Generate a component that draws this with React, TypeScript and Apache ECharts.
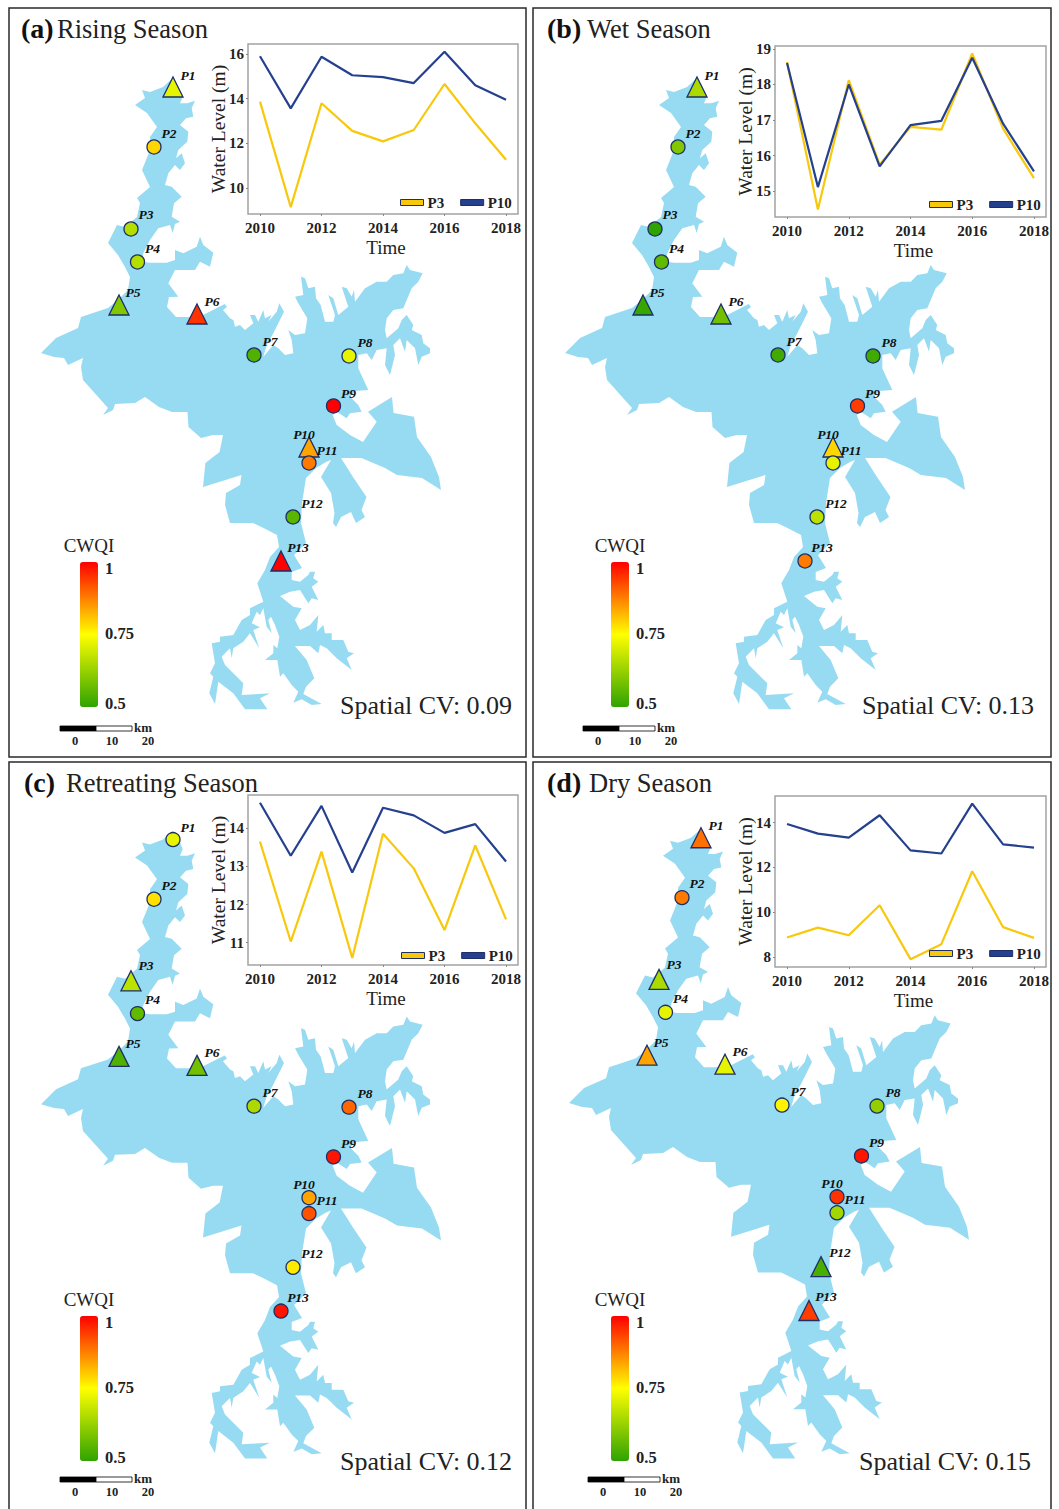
import React, { useEffect, useRef } from "react";
import * as echarts from "echarts";

const years = [2010, 2011, 2012, 2013, 2014, 2015, 2016, 2017, 2018];
const yearTicks = [2010, 2012, 2014, 2016, 2018];

const risingP3 = [13.87, 9.15, 13.8, 12.56, 12.09, 12.6, 14.66, 12.9, 11.27];
const risingP10 = [15.9, 13.57, 15.88, 15.05, 14.97, 14.7, 16.1, 14.6, 13.95];
const wetP3 = [18.63, 14.49, 18.12, 15.75, 16.81, 16.73, 18.87, 16.76, 15.37];
const wetP10 = [18.6, 15.12, 18.0, 15.7, 16.86, 16.98, 18.75, 16.9, 15.56];
const retreatP3 = [13.65, 11.03, 13.39, 10.6, 13.86, 12.95, 11.33, 13.55, 11.61];
const retreatP10 = [14.67, 13.28, 14.59, 12.84, 14.54, 14.34, 13.88, 14.11, 13.13];
const dryP3 = [8.87, 9.31, 8.97, 10.31, 7.9, 8.57, 11.83, 9.33, 8.85];
const dryP10 = [13.94, 13.51, 13.33, 14.33, 12.76, 12.62, 14.85, 13.03, 12.88];

const stationNames = ["P1", "P2", "P3", "P4", "P5", "P6", "P7", "P8", "P9", "P10", "P11", "P12", "P13"];
const stationX = [173, 154, 131, 137.5, 119, 197, 254, 349, 333.5, 309, 309, 293, 281];
const stationY = [87, 147, 229, 262, 305, 314, 355, 356, 406, 447, 463, 517, 561];
const labelDx = [15, 15, 15, 15, 14, 15, 16, 16, 15, -5, 18, 19, 17];
const labelDy = [-12, -14, -15, -14, -13, -13, -14, -14, -13, -13, -13, -14, -14];

const risingCWQI = [0.72, 0.79, 0.66, 0.66, 0.6, 0.95, 0.54, 0.72, 1.0, 0.84, 0.88, 0.55, 1.0];
const wetCWQI = [0.65, 0.6, 0.5, 0.56, 0.51, 0.58, 0.52, 0.52, 0.94, 0.79, 0.72, 0.67, 0.88];
const retreatCWQI = [0.72, 0.78, 0.67, 0.56, 0.54, 0.58, 0.65, 0.9, 0.98, 0.84, 0.92, 0.77, 0.98];
const dryCWQI = [0.89, 0.88, 0.65, 0.72, 0.84, 0.72, 0.76, 0.62, 0.98, 0.95, 0.64, 0.53, 0.94];

const risingTriangles = ["P1", "P5", "P6", "P10", "P13"];
const wetTriangles = ["P1", "P5", "P6", "P10"];
const retreatTriangles = ["P3", "P5", "P6"];
const dryTriangles = ["P1", "P3", "P5", "P6", "P12", "P13"];

// Reservoir outline, traced in panel pixels
const lakeOutline: number[][] = [
  [172.7, 78.3], [180, 90], [182.7, 96.7], [180, 103.3], [187.3, 103.3], [195, 100.7], [191.7, 108.3], [193.3, 116.7], [186, 118.3], [180, 125],
  [188.3, 131.7], [187.3, 141.7], [178.3, 150], [176, 158.3], [181.7, 153.3], [185, 163.3], [180, 170], [175, 165], [168.3, 173.3], [165, 185],
  [171.7, 186.7], [181.7, 196.7], [174, 203.3], [171.7, 216.7], [180, 221.7], [175, 224], [172.7, 233], [170, 225], [158.3, 228.3], [150, 240],
  [143.3, 253.3], [141.7, 261.7], [150, 262.7], [166.7, 262.7], [175, 260], [175, 250], [183.3, 253.3], [196.7, 246.7], [200, 236.7], [203.3, 245],
  [213.3, 252.7], [210, 266.7], [200, 261.7], [195, 270], [175, 270], [168.3, 283.3], [178.3, 296.7], [169, 297], [167, 307], [176, 317],
  [189, 317], [203, 315], [213, 310], [224.7, 304], [227, 307], [223, 310], [230, 318.3], [233.3, 320], [235, 326.7], [240, 325],
  [245, 330], [253.3, 323.3], [250, 315], [255, 315], [258.3, 321.7], [263.3, 310], [265, 318.3], [271.7, 315], [268.3, 321.7], [276.7, 311.7],
  [279.3, 303.3], [284, 311.7], [278.3, 323.3], [273.3, 333.3], [266.7, 345], [263.3, 356.7], [273.3, 345], [278.3, 348.3], [285, 355], [293.3, 353.3],
  [291.7, 340], [288.3, 330], [295, 335], [305, 333.3], [307.3, 318.3], [298.3, 303.3], [295, 296.7], [303.3, 295], [301, 276.7], [305, 278.3],
  [308.3, 288.3], [315, 286.7], [316, 298.3], [320.7, 305], [325, 321.7], [333.3, 321.7], [335, 315], [328.3, 295], [333.3, 298.3], [338.3, 315],
  [348.3, 306.7], [341.7, 286.7], [346.7, 288.3], [351.7, 296.7], [354, 290], [355, 301.7], [365, 288.3], [376.7, 281.7], [386.7, 281.7], [393.3, 275],
  [403.3, 273.3], [406.7, 265], [410, 270], [422.7, 273.3], [418.3, 281.7], [411.7, 288.3], [403.3, 308.3], [393.3, 310], [386.7, 318.3], [385, 330],
  [386.7, 338.3], [398.3, 328.3], [401.7, 320], [406.7, 315], [413.3, 325], [411.7, 330], [421.7, 335], [423.3, 343.3], [430, 348.3], [430, 353.3],
  [421.7, 356.7], [418.3, 365], [415, 348.3], [406.7, 340], [405, 351.7], [400, 338.3], [393.3, 345], [395, 355], [390, 375], [385, 365],
  [386.7, 348.3], [376.7, 350], [371.7, 360], [366.7, 353.3], [358.3, 355], [358.3, 368.3], [368.3, 390], [355, 391], [350, 396.7], [358.3, 405],
  [361.7, 411.7], [350, 413.3], [346.7, 418.3], [336.7, 411.7], [332.7, 415], [336.7, 425], [350, 435], [363, 442], [376.7, 421.7], [368, 411.7],
  [392, 397], [393.6, 413], [414, 416.7], [417, 437], [431, 457], [439, 477], [441, 490], [422, 478], [397, 475], [385, 468],
  [361.5, 458], [341, 458], [353, 477], [366.5, 497], [361.5, 510], [365, 517], [356, 523], [351, 512], [341, 517], [336, 527],
  [333, 523], [334.5, 513], [331, 493], [321, 477], [331, 460], [326, 462], [316, 468], [306, 478], [302, 503], [301, 523],
  [306, 543], [294, 555], [302, 568], [291.7, 572], [291.7, 580], [300, 581.7], [308.3, 575], [310, 571.7], [315, 571.7], [313.3, 578.3],
  [318.3, 581.7], [311.7, 586.7], [318.3, 600], [311.7, 598.3], [308.3, 603.3], [300, 590], [290, 591.7], [280, 596], [293.3, 606.7], [301.7, 608.3],
  [295, 620], [300, 630], [310, 625], [318.3, 615], [316.7, 631.7], [323.3, 625], [325, 633.3], [331.7, 633.3], [331.7, 640], [343.3, 640],
  [348.3, 651.7], [354, 653.3], [346.7, 658.3], [351.7, 670], [336.7, 658.3], [326.7, 648.3], [320, 645], [318.3, 653.3], [310, 646], [295, 646],
  [306.7, 660], [314.3, 678.3], [306, 686.7], [303.3, 694], [321.7, 704], [311.7, 705], [301.7, 699.3], [293.3, 702.7], [298.3, 691.7], [291.7, 685],
  [283.3, 673.3], [280, 676.7], [277.3, 660], [265, 660], [273.3, 653.3], [273.3, 645], [277.3, 648.3], [279.3, 636.7], [275, 625], [271, 616.7],
  [268.3, 620], [271.7, 633.3], [266.7, 626.7], [263.3, 608.3], [260, 615], [256.7, 611.7], [251.7, 623.3], [260, 627.3], [253.3, 630], [259.3, 648.3],
  [250, 633.3], [243.3, 641.7], [233.3, 648.3], [231.7, 658.3], [230, 648.3], [221.7, 656.7], [225, 665], [243.3, 683.3], [241.7, 695], [270, 693.3],
  [260, 698.3], [267.3, 709.3], [245, 709.3], [233.3, 693.3], [218.3, 681.7], [215, 704], [209.3, 693.3], [213.3, 676.7], [210, 673.3], [215, 663.3],
  [211.7, 643.3], [220, 641.7], [220, 636.7], [233.3, 635], [241.7, 620], [250, 615], [250, 608.3], [263.3, 601.7], [257.3, 583.3], [265, 570],
  [270, 557], [279, 547], [277, 535], [263.5, 528], [253, 523], [230, 523], [225, 505], [226, 493], [240, 485], [241.5, 475],
  [203, 487], [205.4, 463], [219.6, 452], [223, 435], [213, 435], [201, 438], [188.5, 427], [187.5, 412], [172, 412], [159, 407],
  [145, 397], [135, 403], [115, 404], [113, 410], [103, 415], [108, 408], [83, 380], [81, 367], [83, 358], [68, 365],
  [64, 358], [54, 357], [41, 353], [56, 338], [78, 328], [81, 317], [108, 308], [118, 300], [128, 290], [130, 277],
  [125, 267], [118, 255], [108, 243], [117, 225], [125, 227], [137, 217], [140, 203], [137, 198], [150, 187], [142, 170],
  [150, 150], [150, 137], [157, 127], [147, 113], [135, 105], [145, 98], [142, 90], [150, 92], [163, 87],
];

const panels = [
  { tag: "(a)", tagX: 21, title: "Rising Season", titleX: 57, cv: "Spatial CV: 0.09", cvX: 340, cvY: 705, p3: risingP3, p10: risingP10, cwqi: risingCWQI, tri: risingTriangles, ox: 0, oy: 0, top: 8, bl: 9, bw: 517, gl: 248, gt: 44, gw: 270, gh: 170, yMin: 8.84, yMax: 16.45, yTicks: [10, 12, 14, 16], lx: 400, ly: 195, cbx: 80, cby: 562, sbx: 60, sby: 726 },
  { tag: "(b)", tagX: 547, title: "Wet Season", titleX: 587, cv: "Spatial CV: 0.13", cvX: 862, cvY: 705, p3: wetP3, p10: wetP10, cwqi: wetCWQI, tri: wetTriangles, ox: 524, oy: 0, top: 8, bl: 533, bw: 518, gl: 775, gt: 46, gw: 271, gh: 171, yMin: 14.28, yMax: 19.08, yTicks: [15, 16, 17, 18, 19], lx: 929, ly: 197, cbx: 611, cby: 562, sbx: 583, sby: 726 },
  { tag: "(c)", tagX: 24, title: "Retreating Season", titleX: 66, cv: "Spatial CV: 0.12", cvX: 340, cvY: 1461, p3: retreatP3, p10: retreatP10, cwqi: retreatCWQI, tri: retreatTriangles, ox: 0, oy: 753, top: 762, bl: 9, bw: 517, gl: 248, gt: 795, gw: 270, gh: 170, yMin: 10.414, yMax: 14.875, yTicks: [11, 12, 13, 14], lx: 401, ly: 948, cbx: 80, cby: 1316, sbx: 60, sby: 1477 },
  { tag: "(d)", tagX: 547, title: "Dry Season", titleX: 589, cv: "Spatial CV: 0.15", cvX: 859, cvY: 1461, p3: dryP3, p10: dryP10, cwqi: dryCWQI, tri: dryTriangles, ox: 528, oy: 751, top: 762, bl: 533, bw: 518, gl: 775, gt: 796, gw: 271, gh: 171, yMin: 7.55, yMax: 15.19, yTicks: [8, 10, 12, 14], lx: 929, ly: 946, cbx: 611, cby: 1316, sbx: 588, sby: 1477 },
];

const SERIF = "'Liberation Serif', serif";
const P3_COLOR = "#f8c80c";
const P10_COLOR = "#24408e";
const EDGE = "#1d2f66";

function buildOption() {
  const grid: any[] = [], xAxis: any[] = [], yAxis: any[] = [], series: any[] = [], legend: any[] = [], visualMap: any[] = [], graphic: any[] = [];
  panels.forEach((p, i) => {
    const mapIdx = i * 2, lineIdx = i * 2 + 1;
    grid.push({ left: p.ox, top: p.oy, width: 530, height: 760, show: false, z: 1 });
    xAxis.push({ gridIndex: mapIdx, type: "value", min: 0, max: 530, show: false });
    yAxis.push({ gridIndex: mapIdx, type: "value", min: 0, max: 760, inverse: true, show: false });

    grid.push({ left: p.gl, top: p.gt, width: p.gw, height: p.gh, show: true, borderColor: "#a3a3a3", borderWidth: 1.5, backgroundColor: "#fff", z: 3 });
    xAxis.push({
      gridIndex: lineIdx, type: "value", min: 2009.61, max: 2018.39, z: 4,
      name: "Time", nameLocation: "middle", nameGap: 24, nameMoveOverlap: false,
      nameTextStyle: { fontFamily: SERIF, fontSize: 19, color: "#222", padding: [0, 0, 0, 6] },
      splitLine: { show: false }, axisLine: { show: false },
      axisTick: { show: true, length: 2, customValues: yearTicks, lineStyle: { color: "#888" } },
      axisLabel: { customValues: yearTicks, formatter: (v: number) => String(v), margin: 6, fontFamily: SERIF, fontWeight: "bold", fontSize: 15, color: "#222", hideOverlap: false, showMinLabel: true, showMaxLabel: true },
    });
    yAxis.push({
      gridIndex: lineIdx, type: "value", min: p.yMin, max: p.yMax, z: 4,
      name: "Water Level (m)", nameLocation: "middle", nameGap: 20, nameRotate: 90, nameMoveOverlap: false,
      nameTextStyle: { fontFamily: SERIF, fontSize: 19.5, color: "#222" },
      splitLine: { show: false }, axisLine: { show: false },
      axisTick: { show: true, length: 2, customValues: p.yTicks, lineStyle: { color: "#888" } },
      axisLabel: { customValues: p.yTicks, formatter: (v: number) => String(v), margin: 4, fontFamily: SERIF, fontWeight: "bold", fontSize: 15, color: "#222" },
    });

    const stationIdx = series.length + 1;
    series.push({
      type: "custom", coordinateSystem: "cartesian2d", xAxisIndex: mapIdx, yAxisIndex: mapIdx, silent: true, z: 1, clip: false,
      data: [[0, 0]],
      renderItem: (_: any, api: any) => ({
        type: "polygon", shape: { points: lakeOutline.map((c) => api.coord(c)) }, style: { fill: "#97dbf2" },
      }),
    });
    series.push({
      type: "scatter", xAxisIndex: mapIdx, yAxisIndex: mapIdx, z: 2, silent: true, clip: false,
      itemStyle: { borderColor: EDGE, borderWidth: 1.3, opacity: 1 },
      data: stationNames.map((name, k) => {
        const tri = p.tri.includes(name);
        return {
          name, value: [stationX[k], stationY[k], p.cwqi[k]],
          symbol: tri ? "triangle" : "circle", symbolSize: tri ? 20 : 14,
          label: {
            show: true, position: "inside", formatter: name, offset: [labelDx[k], labelDy[k]],
            fontFamily: SERIF, fontStyle: "italic", fontWeight: "bold", fontSize: 13.5, color: "#111",
          },
        };
      }),
    });
    visualMap.push({
      type: "continuous", seriesIndex: stationIdx, dimension: 2, min: 0.5, max: 1, calculable: false, hoverLink: false,
      orient: "vertical", left: p.cbx, top: p.cby, itemWidth: 18, itemHeight: 145, text: ["", ""], textGap: 0, padding: 0,
      inRange: { color: ["#2fa300", "#ffff00", "#ff0000"] }, z: 4,
    });
    const lineBase = { type: "line", xAxisIndex: lineIdx, yAxisIndex: lineIdx, showSymbol: false, symbol: "none", z: 5, silent: true };
    series.push({ ...lineBase, name: "P3", color: P3_COLOR, lineStyle: { color: P3_COLOR, width: 2.2 }, data: years.map((y, k) => [y, p.p3[k]]) });
    series.push({ ...lineBase, name: "P10", color: P10_COLOR, lineStyle: { color: P10_COLOR, width: 2.2 }, data: years.map((y, k) => [y, p.p10[k]]) });
    legend.push({
      left: p.lx, top: p.ly, padding: 0, itemGap: 16, itemWidth: 23, itemHeight: 6, z: 6, selectedMode: false,
      textStyle: { fontFamily: SERIF, fontWeight: "bold", fontSize: 15, color: "#222", padding: [0, 0, 0, -1] },
      data: [
        { name: "P3", icon: "rect", itemStyle: { color: P3_COLOR, borderColor: EDGE, borderWidth: 1 } },
        { name: "P10", icon: "rect", itemStyle: { color: P10_COLOR, borderColor: EDGE, borderWidth: 1 } },
      ],
    });

    graphic.push({ type: "rect", z: 0, silent: true, shape: { x: p.bl, y: p.top, width: p.bw, height: i < 2 ? 749 : 760 }, style: { fill: "none", stroke: "#2a2a2a", lineWidth: 1.5 } });
    const txt = (x: number, y: number, text: string, size: number, weight = "normal", align = "left", fill = "#222", z = 10) => ({
      type: "text", x, y, z, silent: true, style: { text, fontFamily: SERIF, fontSize: size, fontWeight: weight, fill, align, verticalAlign: "middle" },
    });
    const titleY = p.top + 20.5;
    graphic.push(txt(p.tagX, titleY, p.tag, 28, "bold", "left", "#111"));
    graphic.push(txt(p.titleX, titleY, p.title, 26.5));
    graphic.push(txt(p.cvX, p.cvY, p.cv, 26));
    graphic.push(txt(p.cbx + 9, p.cby - 17, "CWQI", 19, "normal", "center"));
    graphic.push(txt(p.cbx + 25, p.cby + 6, "1", 16.5, "bold"));
    graphic.push(txt(p.cbx + 25, p.cby + 71, "0.75", 16.5, "bold"));
    graphic.push(txt(p.cbx + 25, p.cby + 141, "0.5", 16.5, "bold"));
    graphic.push({ type: "rect", z: 10, silent: true, shape: { x: p.sbx, y: p.sby, width: 36, height: 5 }, style: { fill: "#000", stroke: "#000", lineWidth: 0.8 } });
    graphic.push({ type: "rect", z: 10, silent: true, shape: { x: p.sbx + 36, y: p.sby, width: 36, height: 5 }, style: { fill: "#fff", stroke: "#000", lineWidth: 0.8 } });
    graphic.push(txt(p.sbx + 74, p.sby + 1, "km", 13, "bold"));
    graphic.push(txt(p.sbx + 15, p.sby + 15, "0", 12.5, "bold", "center"));
    graphic.push(txt(p.sbx + 52, p.sby + 15, "10", 12.5, "bold", "center"));
    graphic.push(txt(p.sbx + 88, p.sby + 15, "20", 12.5, "bold", "center"));
  });
  return { animation: false, backgroundColor: "#fff", tooltip: { show: false }, grid, xAxis, yAxis, series, legend, visualMap, graphic: { elements: graphic } };
}

export default function App() {
  const ref = useRef<HTMLDivElement>(null);
  useEffect(() => {
    document.body.style.margin = "0";
    const chart = echarts.init(ref.current!, undefined, { renderer: "svg" });
    chart.setOption(buildOption() as any);
    return () => chart.dispose();
  }, []);
  return <div ref={ref} style={{ width: 1059, height: 1509, overflow: "hidden" }} />;
}
